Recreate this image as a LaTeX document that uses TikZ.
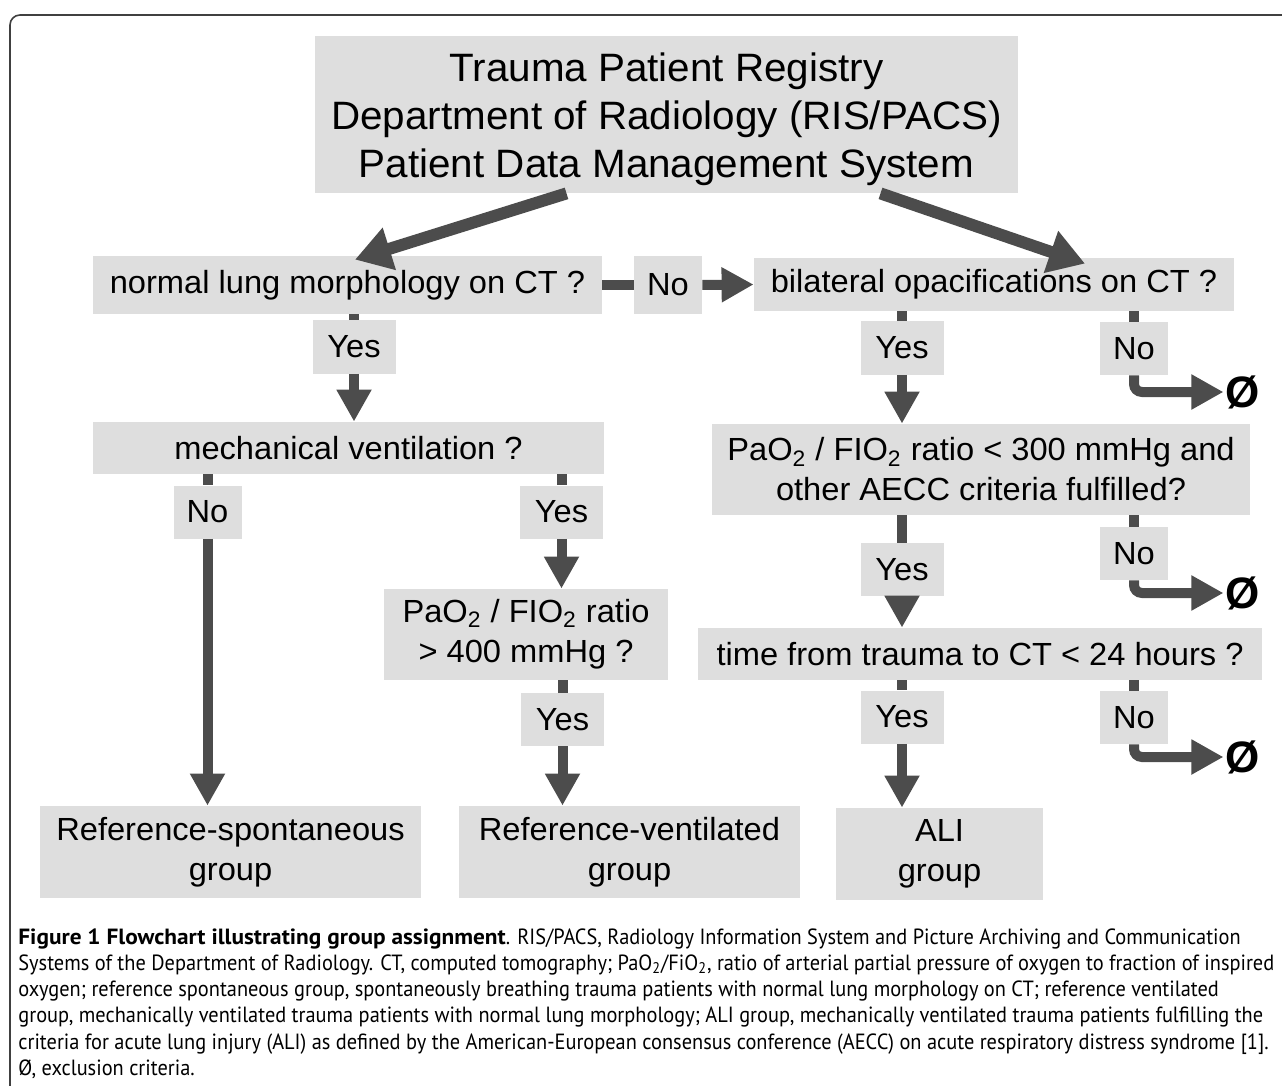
\documentclass[tikz,border=0pt]{standalone}
\usepackage{fontspec}
\setmainfont{Liberation Sans}
\newfontfamily\chartfont[FakeStretch=1.02]{Liberation Sans}
\newfontfamily\capfont[FakeStretch=0.926,BoldFeatures={FakeStretch=1.06}]{PT Sans}
\usetikzlibrary{arrows.meta, calc}

\definecolor{boxgray}{gray}{0.87}
\definecolor{arrowgray}{gray}{0.30}

\begin{document}
\begin{tikzpicture}[x=0.5pt,y=-0.5pt,
  box/.style={fill=boxgray,inner sep=0pt,align=center,font=\chartfont\fontsize{16}{20}\selectfont},
  yes/.style={box,minimum width=41.5pt,minimum height=26.5pt},
  no/.style={box,minimum width=34pt,minimum height=26.5pt},
  stub/.style={draw=arrowgray,line width=5pt},
  arr/.style={stub,-{Triangle[width=16.5pt,length=16pt]}},
  bigarr/.style={draw=arrowgray,line width=6pt,-{Triangle[width=21pt,length=18pt]}},
  excl/.style={font=\bfseries\fontsize{22}{22}\selectfont,inner sep=1pt}]
  \useasboundingbox (0,0) rectangle (1282,1086);
  \draw[black!75,line width=0.8pt,rounded corners=5pt] (10,1120) -- (10,15) -- (1320,15);

  % start and first questions
  \node[box,font=\chartfont\fontsize{19.8}{24}\selectfont,minimum width=351.5pt,minimum height=78.5pt] (reg) at (666.5,114.5)
    {\rule{0pt}{19pt}Trauma Patient Registry\\Department of Radiology (RIS/PACS)\\Patient Data Management System};
  \node[box,minimum width=254.5pt,minimum height=29pt] (normal) at (347.5,285) {normal lung morphology on CT ?};
  \node[no,minimum height=29pt] (noA) at (668,285) {No};
  \node[box,minimum width=240pt,minimum height=26.5pt] (bilat) at (994,284.5) {bilateral opacifications on CT ?};

  % left branch
  \node[yes] (yes1) at (354,347) {Yes};
  \node[box,minimum width=255.5pt,minimum height=26pt] (mech) at (348.5,448) {mechanical ventilation ?};
  \node[no] (no1) at (207.5,512) {No};
  \node[yes] (yes2) at (561.5,512) {Yes};
  \node[box,minimum width=142pt,minimum height=45.5pt] (ratio400) at (526,634.5)
    {PaO\textsubscript{2} / FIO\textsubscript{2} ratio\\> 400 mmHg ?};
  \node[yes] (yes3) at (562.5,719.5) {Yes};
  \node[box,minimum width=190.5pt,minimum height=46pt] (refS) at (230.5,852) {Reference-spontaneous\\group};
  \node[box,minimum width=170.5pt,minimum height=46pt] (refV) at (629.5,852) {Reference-ventilated\\group};

  % right branch
  \node[yes] (yes4) at (902,348) {Yes};
  \node[no] (no4) at (1134,348.5) {No};
  \node[excl] (ex1) at (1243,392) {Ø};
  \node[box,minimum width=269pt,minimum height=45.5pt] (ratio300) at (981,469.5)
    {PaO\textsubscript{2} / FIO\textsubscript{2} ratio < 300 mmHg and\\other AECC criteria fulfilled?};
  \node[yes] (yes5) at (902,569.5) {Yes};
  \node[no] (no5) at (1134,553.5) {No};
  \node[excl] (ex2) at (1243,593) {Ø};
  \node[box,minimum width=282pt,minimum height=26pt] (time) at (980,654) {time from trauma to CT < 24 hours ?};
  \node[yes] (yes6) at (902,717) {Yes};
  \node[no] (no6) at (1134,717.5) {No};
  \node[excl] (ex3) at (1243,757) {Ø};
  \node[box,minimum width=103.5pt,minimum height=46pt] (ali) at (939.5,854) {ALI\\group};

  % connectors
  \draw[bigarr] ([xshift=-50pt]reg.south) -- ([xshift=3.75pt,yshift=-2pt]normal.north);
  \draw[bigarr] ([xshift=107pt]reg.south) -- ([xshift=45.5pt,yshift=-3pt]bilat.north);
  \draw[stub] (normal.east) -- (noA.west);
  \draw[arr] (noA.east) -- (bilat.west);
  \draw[stub] (yes1.north |- normal.south) -- (yes1.north);
  \draw[arr] (yes1.south) -- (yes1.south |- mech.north);
  \draw[stub] (no1.north |- mech.south) -- (no1.north);
  \draw[arr] (no1.south) -- (no1.south |- refS.north);
  \draw[stub] (yes2.north |- mech.south) -- (yes2.north);
  \draw[arr] (yes2.south) -- (yes2.south |- ratio400.north);
  \draw[stub] (yes3.north |- ratio400.south) -- (yes3.north);
  \draw[arr] (yes3.south) -- (yes3.south |- refV.north);
  \draw[stub] (yes4.north |- bilat.south) -- (yes4.north);
  \draw[arr] (yes4.south) -- (yes4.south |- ratio300.north);
  \draw[stub] (no4.north |- bilat.south) -- (no4.north);
  \draw[arr,rounded corners=4pt] (no4.south) |- (ex1.west);
  \draw[stub] (yes5.north |- ratio300.south) -- (yes5.north);
  \draw[arr] (yes5.south) -- (yes5.south |- time.north);
  \draw[stub] (no5.north |- ratio300.south) -- (no5.north);
  \draw[arr,rounded corners=4pt] (no5.south) |- (ex2.west);
  \draw[stub] (yes6.north |- time.south) -- (yes6.north);
  \draw[arr] (yes6.south) -- (yes6.south |- ali.north);
  \draw[stub] (no6.north |- time.south) -- (no6.north);
  \draw[arr,rounded corners=4pt] (no6.south) |- (ex3.west);

  % caption
  \node[anchor=north west,align=left,inner sep=0pt,font=\capfont\fontsize{11}{13.15}\selectfont] (cap) at (18,928)
    {\textbf{Figure 1 Flowchart illustrating group assignment}. RIS/PACS, Radiology Information System and Picture Archiving and Communication\\
     Systems of the Department of Radiology. CT, computed tomography; PaO\textsubscript{2}/FiO\textsubscript{2}, ratio of arterial partial pressure of oxygen to fraction of inspired\\
     oxygen; reference spontaneous group, spontaneously breathing trauma patients with normal lung morphology on CT; reference ventilated\\
     group, mechanically ventilated trauma patients with normal lung morphology; ALI group, mechanically ventilated trauma patients fulfilling the\\
     criteria for acute lung injury (ALI) as defined by the American-European consensus conference (AECC) on acute respiratory distress syndrome [1].\\
     Ø, exclusion criteria.};
\end{tikzpicture}
\end{document}
